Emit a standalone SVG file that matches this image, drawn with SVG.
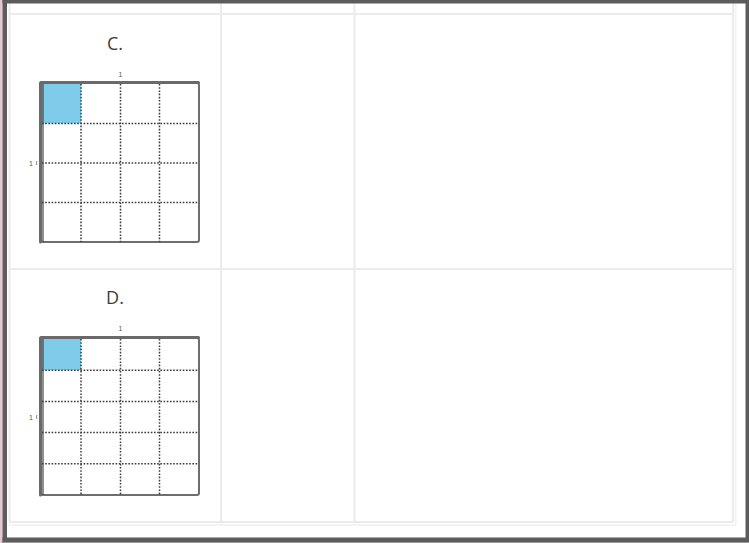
<svg xmlns="http://www.w3.org/2000/svg" width="749" height="543" viewBox="0 0 749 543">
<style>
.tl{stroke:#ebebeb;stroke-width:2;fill:none}
.frame{fill:#ffffff;stroke:#6e6e6e;stroke-width:2}
.dot{stroke:#3a3a3a;stroke-width:1.5;stroke-dasharray:1.6 1.6;fill:none}
.blue{fill:#7ecbea}
.lab{font-family:"Open Sans","Liberation Sans",sans-serif;font-size:18px;fill:#3c3c3c;text-anchor:middle}
.one{font-family:"Liberation Sans",sans-serif;font-size:7px;fill:#555;text-anchor:middle}
.edge{stroke:#6a6a6a;stroke-width:3;stroke-linecap:round;fill:none}
</style>
<rect x="0" y="0" width="749" height="543" fill="#ffffff"/>
<g id="table">
<line class="tl" x1="9" y1="14" x2="733" y2="14"/>
<line class="tl" x1="9" y1="269" x2="733" y2="269"/>
<line class="tl" x1="9" y1="522" x2="733" y2="522"/>
<line class="tl" x1="9.5" y1="3" x2="9.5" y2="522"/>
<line class="tl" x1="221" y1="3" x2="221" y2="522"/>
<line class="tl" x1="354.5" y1="3" x2="354.5" y2="522"/>
<line class="tl" x1="733" y1="3" x2="733" y2="522"/>
<line stroke="#f4f4f4" stroke-width="2" x1="735.5" y1="3" x2="735.5" y2="525"/>
<line stroke="#f4f4f4" stroke-width="2" x1="9" y1="525" x2="736" y2="525"/>
</g>
<g id="nodeC">
<text class="lab" x="115" y="50">C.</text>
<rect class="frame" x="41" y="83" width="158" height="159" rx="2"/>
<rect class="blue" x="42" y="84" width="39" height="39.5"/>
<line class="dot" x1="81" y1="84" x2="81" y2="242"/>
<line class="dot" x1="120.5" y1="84" x2="120.5" y2="242"/>
<line class="dot" x1="159.5" y1="84" x2="159.5" y2="242"/>
<line class="dot" x1="42" y1="123.5" x2="198" y2="123.5"/>
<line class="dot" x1="42" y1="163" x2="198" y2="163"/>
<line class="dot" x1="42" y1="202.5" x2="198" y2="202.5"/>
<line class="edge" x1="41" y1="82.5" x2="198.5" y2="82.5"/>
<line class="edge" x1="40.5" y1="83" x2="40.5" y2="242"/>
<line stroke="#444" stroke-width="1.2" x1="43" y1="84" x2="43" y2="242"/>
<text class="one" x="120.5" y="77">1</text>
<text class="one" x="31" y="165.5">1</text>
<path d="M37 161 Q35.5 163 37 165" stroke="#666" stroke-width="0.8" fill="none"/>
</g>
<g id="nodeD">
<text class="lab" x="115" y="304">D.</text>
<rect class="frame" x="41" y="338" width="158" height="157" rx="2"/>
<rect class="blue" x="42" y="339" width="39" height="31.2"/>
<line class="dot" x1="81" y1="339" x2="81" y2="495"/>
<line class="dot" x1="120.5" y1="339" x2="120.5" y2="495"/>
<line class="dot" x1="159.5" y1="339" x2="159.5" y2="495"/>
<line class="dot" x1="42" y1="370.2" x2="198" y2="370.2"/>
<line class="dot" x1="42" y1="401.4" x2="198" y2="401.4"/>
<line class="dot" x1="42" y1="432.6" x2="198" y2="432.6"/>
<line class="dot" x1="42" y1="463.8" x2="198" y2="463.8"/>
<line class="edge" x1="41" y1="337.5" x2="198.5" y2="337.5"/>
<line class="edge" x1="40.5" y1="338" x2="40.5" y2="495"/>
<line stroke="#444" stroke-width="1.2" x1="43" y1="339" x2="43" y2="495"/>
<text class="one" x="120.5" y="331">1</text>
<text class="one" x="31" y="419.5">1</text>
<path d="M37 415 Q35.5 417 37 419" stroke="#666" stroke-width="0.8" fill="none"/>
</g>
<g id="border">
<rect x="0" y="0" width="2.5" height="543" fill="#e6c6d2"/>
<rect x="2.5" y="0" width="746.5" height="3.5" fill="#5c5c5c"/>
<rect x="2.5" y="0" width="4.5" height="543" fill="#5c5c5c"/>
<rect x="745.5" y="0" width="3.5" height="543" fill="#5c5c5c"/>
<rect x="2.5" y="537.5" width="746.5" height="4.5" fill="#5c5c5c"/>
<rect x="2.5" y="542" width="746.5" height="1" fill="#9a9a9a"/>
</g>
</svg>
